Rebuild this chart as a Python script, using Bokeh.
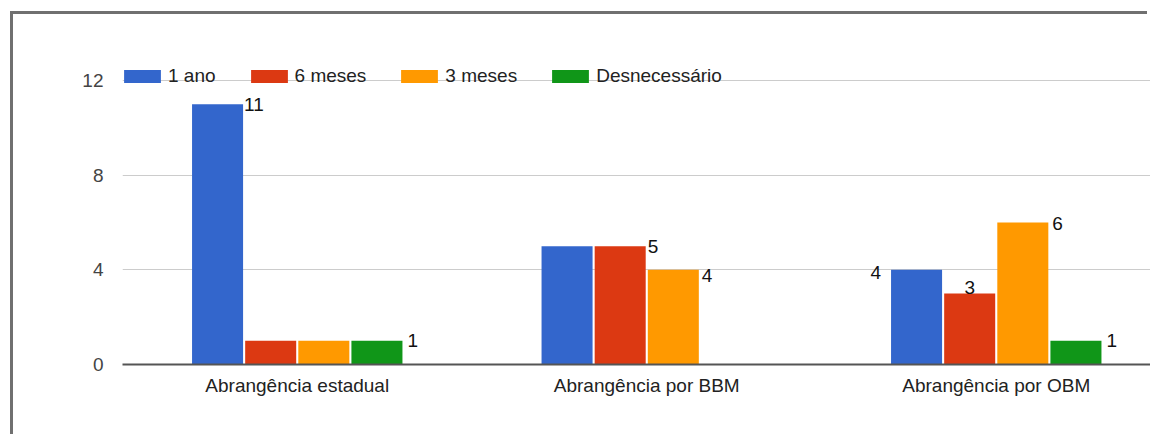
from bokeh.plotting import figure
from bokeh.models import Range1d, FixedTicker, Legend, LegendItem, ColumnDataSource
from bokeh.core.properties import value
from bokeh.embed import file_html
from bokeh.resources import INLINE

# ---- data ----
categories = ["Abrangência estadual", "Abrangência por BBM", "Abrangência por OBM"]
series = ["1 ano", "6 meses", "3 meses", "Desnecessário"]
um_ano = [11, 5, 4]
seis_meses = [1, 5, 3]
tres_meses = [1, 4, 6]
desnecessario = [1, 0, 1]
y_ticks = [0, 4, 8, 12]

# ---- style ----
colors = ["#3366cc", "#dc3912", "#ff9900", "#109618"]
FONT = "Liberation Sans"
pitch = 0.152      # distance between bar centres inside a group
bar_w = 0.146
# value-label placement per (series, category): side of bar and pixel offsets
label_place = {
    (0, 0): ("right", 1, 0), (3, 0): ("right", 5, 0),
    (1, 1): ("right", 2, 0), (2, 1): ("right", 3, 6),
    (0, 2): ("left", 10, 3), (1, 2): ("above", 0, 0),
    (2, 2): ("right", 4, 1), (3, 2): ("right", 5, 0),
}

values = [um_ano, seis_meses, tres_meses, desnecessario]

# layout in pixels
OFF_X, OFF_Y = 13, 14            # grey frame: offset of the chart canvas
W, H = 1165 - OFF_X - 15, 443 - OFF_Y - 6
LEFT = 122 - OFF_X               # space for y labels
FRAME_H = 364 - OFF_Y            # plot area height
PX_PER_UNIT = (364 - 80) / 12.0
PX_PER_GROUP = 349.5

p = figure(width=W, height=H, output_backend="svg", toolbar_location=None,
           x_range=Range1d(0, (W - LEFT) / PX_PER_GROUP),
           y_range=Range1d(0, FRAME_H / PX_PER_UNIT),
           min_border_left=LEFT, min_border_right=0, min_border_top=0,
           min_border_bottom=H - FRAME_H)
# grey frame drawn just outside the left and top edges
p.styles = {"margin-left": f"{OFF_X}px", "margin-top": f"{OFF_Y}px",
            "box-shadow": "-3px -3px 0px 0px #707070"}
p.outline_line_color = None
p.background_fill_color = "white"
p.border_fill_color = "white"

renderers = []
lx, ly, lt, la, lb, lxo, lyo = [], [], [], [], [], [], []
for k, (name, vals) in enumerate(zip(series, values)):
    xs = [i + 0.5 + (k - 1.5) * pitch for i in range(len(categories))]
    src = ColumnDataSource(dict(x=xs, top=vals))
    r = p.vbar(x="x", top="top", width=bar_w, source=src,
               fill_color=colors[k], line_color=None)
    renderers.append(r)
    for i, v in enumerate(vals):
        if (k, i) not in label_place:
            continue
        side, dx, dy = label_place[(k, i)]
        if side == "right":
            lx.append(xs[i] + bar_w / 2); la.append("left"); lb.append("middle"); lxo.append(dx)
        elif side == "left":
            lx.append(xs[i] - bar_w / 2); la.append("right"); lb.append("middle"); lxo.append(-dx)
        else:
            lx.append(xs[i]); la.append("center"); lb.append("bottom"); lxo.append(dx)
        ly.append(v); lt.append(str(v)); lyo.append(dy)

lab_src = ColumnDataSource(dict(x=lx, y=ly, t=lt, a=la, b=lb, xo=lxo, yo=lyo))
p.text(x="x", y="y", text="t", source=lab_src, text_align="a", text_baseline="b",
       x_offset="xo", y_offset="yo", text_font=value(FONT),
       text_font_size="19px", text_color="#111111")

# axes
p.xaxis.ticker = FixedTicker(ticks=[i + 0.5 for i in range(len(categories))])
p.xaxis.major_label_overrides = {i + 0.5: c for i, c in enumerate(categories)}
p.xaxis.axis_line_color = "#555555"
p.xaxis.axis_line_width = 2
p.xaxis.major_tick_line_color = None
p.xaxis.minor_tick_line_color = None
p.xaxis.major_tick_out = 0
p.xaxis.major_tick_in = 0
p.xaxis.major_label_standoff = 10
p.xaxis.major_label_text_font = FONT
p.xaxis.major_label_text_font_size = "19px"
p.xaxis.major_label_text_color = "#222222"

p.yaxis.ticker = FixedTicker(ticks=y_ticks)
p.yaxis.axis_line_color = None
p.yaxis.major_tick_line_color = None
p.yaxis.minor_tick_line_color = None
p.yaxis.major_tick_out = 0
p.yaxis.major_tick_in = 0
p.yaxis.major_label_standoff = 19
p.yaxis.major_label_text_font = FONT
p.yaxis.major_label_text_font_size = "19px"
p.yaxis.major_label_text_color = "#444444"

p.xgrid.grid_line_color = None
p.ygrid.ticker = FixedTicker(ticks=y_ticks)
p.ygrid.grid_line_color = "#cccccc"
p.ygrid.grid_line_width = 1

legend = Legend(items=[LegendItem(label=s, renderers=[r]) for s, r in zip(series, renderers)],
                location=(-3, 277), orientation="horizontal",
                glyph_width=46, glyph_height=16, label_standoff=3, spacing=30,
                padding=0, margin=0, border_line_color=None,
                background_fill_alpha=0, label_height=20,
                label_text_font=FONT, label_text_font_size="19px",
                label_text_color="#222222")
p.add_layout(legend)

open("out.html", "w").write(file_html(p, INLINE))
